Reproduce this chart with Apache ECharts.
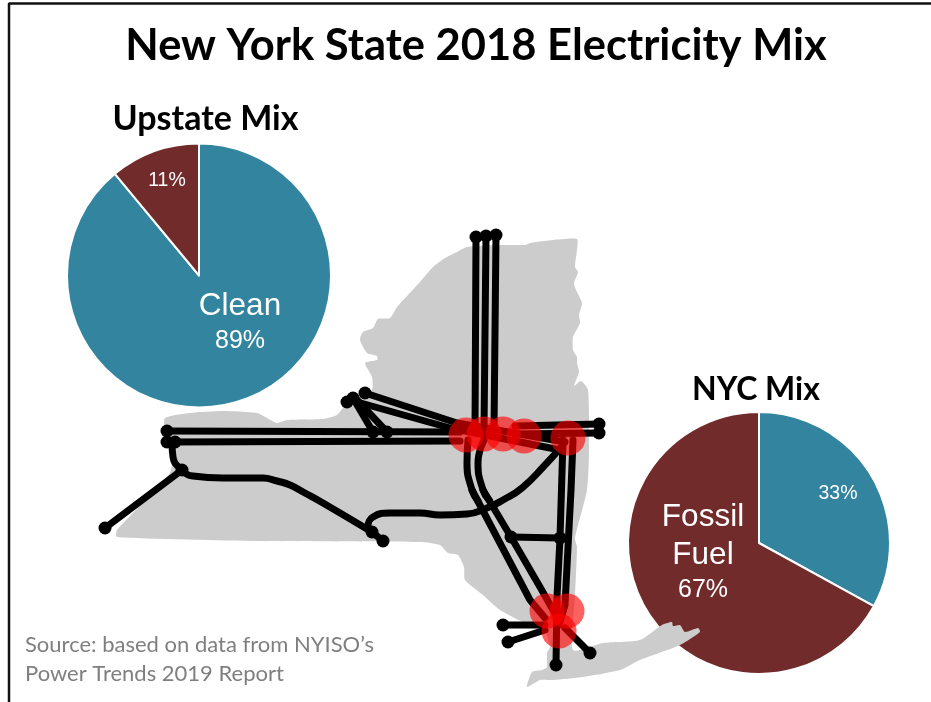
<!DOCTYPE html>
<html><head><meta charset="utf-8">
<script src="https://cdn.jsdelivr.net/npm/echarts@6/dist/echarts.min.js"></script>
<style>html,body{margin:0;padding:0;background:#fff}#c{width:931px;height:702px}</style></head>
<body><div id="c"></div>
<script>
const titleText='New York State 2018 Electricity Mix';
const upstateTitle='Upstate Mix';
const nycTitle='NYC Mix';
const sourceText='Source: based on data from NYISO’s\nPower Trends 2019 Report';
const sliceNames=['Clean','Fossil Fuel'];
const upstateValues=[89,11];
const nycValues=[33,67];
const sliceColors=['#32849f','#722b2b'];

const mapOutline=[[117,537],[117,530],[170,473],[172,445],[165,430],[165,418],[190,413],[223,411],[257,413],[267,418],[277,423],[287,420],[323,419],[337,415],[347,403],[360,397],[372,390],[372,377],[365,363],[377,360],[377,356],[367,353],[360,340],[363,332],[373,328],[378,319],[390,318],[397,307],[420,282],[433,267],[445,258],[457,252],[467,247],[497,245],[525,245],[530,243],[553,240],[577,239],[577,250],[575,267],[578,272],[574,283],[576,290],[582,303],[579,315],[580,323],[573,337],[573,350],[577,357],[577,363],[579,372],[574,386],[581,381],[588,390],[589,453],[587,490],[575,538],[577,547],[575,597],[573,650],[603,643],[640,640],[662,625],[672,622],[673,626],[680,625],[685,632],[698,628],[700,632],[680,645],[640,660],[620,670],[583,677],[553,680],[540,680],[527,687],[532,672],[542,670],[547,667],[547,653],[550,647],[543,627],[523,622],[500,610],[483,595],[465,580],[464,567],[458,555],[448,553],[440,545],[420,542],[257,541]];

const straightLines=[
 [[476,237],[475,430]],
 [[486,236],[484,430]],
 [[496,235],[494,430]],
 [[167,431],[460,432]],
 [[167,442],[460,441]],
 [[599,424],[515,426]],
 [[599,433],[515,434]],
 [[365,393],[457,423],[565,442]],
 [[350,400],[450,428],[560,450]],
 [[353,398],[373,432]],
 [[357,400],[387,432]],
 [[182,470],[105,528]],
 [[563,440],[560,538],[557,597],[556,665]],
 [[573,440],[571,490],[565,605],[559,625]],
 [[511,537],[560,538]],
 [[503,625],[545,625]],
 [[508,642],[545,630]],
 [[590,653],[565,628]],
 [[372,532],[383,541]],
 [[472,490],[530,600],[545,618]],
 [[483,490],[511,537],[540,587],[557,617]]
];
const curvedLines=[
 [[468,440],[467,463],[472,490],[478,501]],
 [[484,440],[478,463],[483,490],[489,500]],
 [[563,445],[545,465],[522,488],[503,500],[487,508],[467,514],[440,515],[420,513],[390,513],[373,517],[368,527],[372,532]],
 [[172,442],[173,457],[182,470],[193,476],[223,478],[263,478],[277,481],[290,485],[305,493],[323,503],[372,532]]
];
const nodes=[[476,237],[486,236],[496,235],[167,431],[167,442],[175,442],[599,424],[599,433],[347,402],[353,398],[365,393],[373,432],[387,432],[182,470],[105,528],[372,532],[383,541],[503,625],[508,642],[590,653],[556,665],[511,537],[560,538]];
const hubs=[[466,435],[484,434],[503,434],[524,436],[568,438],[547,611],[567,611],[559,631]];
const frameLine=[[9,702],[9,3.5],[931,3.5]];

const lineSeries=(paths,smooth)=>paths.map(p=>({
  type:'line',data:p,z:3,smooth:smooth?0.5:false,showSymbol:false,silent:true,
  lineStyle:{color:'#000',width:7,cap:'round',join:'round'}
}));
const pieLabelFont='"Liberation Sans",Arial,sans-serif';
const richStyles={
  big:{color:'#fff',fontFamily:pieLabelFont,fontSize:31.5,lineHeight:38},
  pct:{color:'#fff',fontFamily:pieLabelFont,fontSize:25,lineHeight:32},
  small:{color:'#fff',fontFamily:pieLabelFont,fontSize:19.5,lineHeight:22}
};
function pie(values,center,radius,fmt,places){
  return {type:'pie',center:center,radius:radius,startAngle:90,clockwise:true,z:1,silent:true,
    data:sliceNames.map((n,i)=>({name:n,value:values[i],itemStyle:{color:sliceColors[i]}})),
    itemStyle:{borderColor:'#fff',borderWidth:2},
    label:{show:true,position:'inside',formatter:fmt,rich:richStyles},
    labelLine:{show:false},
    labelLayout:p=>({x:places[p.dataIndex][0],y:places[p.dataIndex][1],align:'center',verticalAlign:'middle'})
  };
}
const calibri='Lato,"Open Sans",sans-serif';
const chart=echarts.init(document.getElementById('c'),null,{renderer:'canvas'});
chart.setOption({
  animation:false,backgroundColor:'#fff',
  title:[
    {text:titleText,left:471,top:19,textAlign:'center',textStyle:{fontFamily:calibri,fontWeight:'bold',fontSize:43.5,color:'#000'}},
    {text:upstateTitle,left:200.5,top:97,textAlign:'center',textStyle:{fontFamily:calibri,fontWeight:'bold',fontSize:34,color:'#000'}},
    {text:nycTitle,left:751,top:369,textAlign:'center',textStyle:{fontFamily:calibri,fontWeight:'bold',fontSize:32,color:'#000'}},
    {text:sourceText,left:20,top:625,textStyle:{fontFamily:calibri,fontWeight:'normal',fontSize:22,lineHeight:29,color:'#7f7f7f'}}
  ],
  grid:{left:0,right:0,top:0,bottom:0},
  xAxis:{type:'value',min:0,max:931,show:false},
  yAxis:{type:'value',min:0,max:702,inverse:true,show:false},
  series:[
    pie(upstateValues,[199,275.5],132,p=>p.dataIndex===0?'{big|Clean}\n{pct|89%}':'{small|11%}',[[240,322],[167,181]]),
    pie(nycValues,[759,543],131,p=>p.dataIndex===0?'{small|33%}':'{big|Fossil}\n{big|Fuel}\n{pct|67%}',[[838,494],[703,552]]),
    {type:'custom',coordinateSystem:'cartesian2d',z:2,silent:true,data:[0],clip:false,
     renderItem:(params,api)=>({type:'polygon',shape:{points:mapOutline.map(p=>api.coord(p)),smooth:0.2},style:{fill:'#cccccc'}})},
    ...lineSeries(straightLines,false),
    ...lineSeries(curvedLines,true),
    {type:'scatter',data:nodes,z:4,symbol:'circle',symbolSize:13,silent:true,itemStyle:{color:'#000',opacity:1}},
    {type:'scatter',data:hubs,z:5,symbol:'circle',symbolSize:35,silent:true,itemStyle:{color:'#ff0000',opacity:0.62}},
    {type:'line',data:frameLine,z:6,showSymbol:false,silent:true,lineStyle:{color:'#111',width:2.5}}
  ]
});
</script></body></html>
